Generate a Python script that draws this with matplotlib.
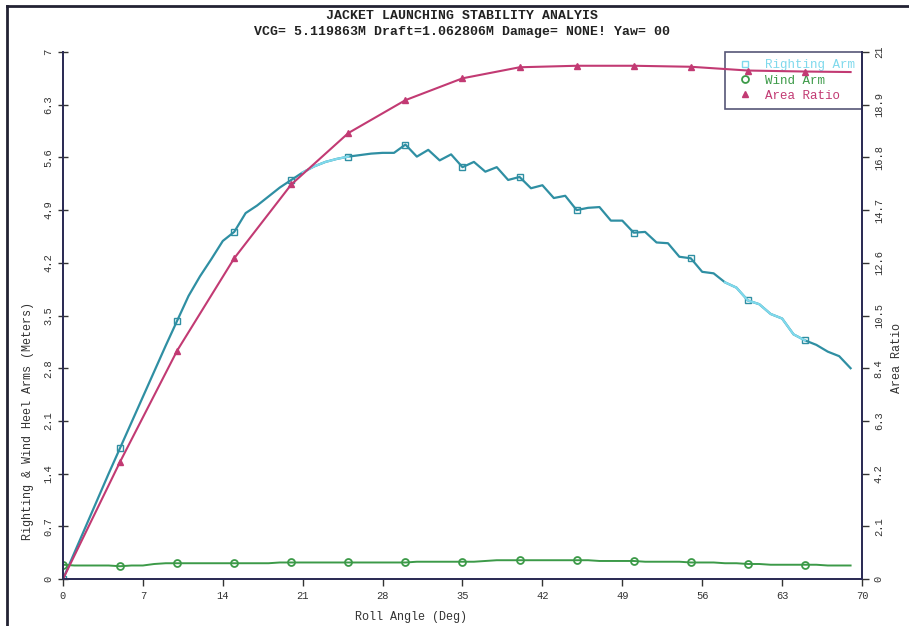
import matplotlib
matplotlib.use('Agg')
import matplotlib.pyplot as plt
from matplotlib.lines import Line2D

plt.rcParams['font.family'] = ['Liberation Mono', 'DejaVu Sans Mono']

# roll angle, degrees
angle = list(range(0, 70))

# righting arm (m), read every degree
righting_arm = [0.00, 0.35, 0.70, 1.05, 1.40, 1.74, 2.08, 2.42, 2.76, 3.10,
                3.43, 3.76, 4.02, 4.25, 4.49, 4.61, 4.86, 4.96, 5.08, 5.20,
                5.30, 5.40, 5.48, 5.54, 5.58, 5.61, 5.63, 5.65, 5.66, 5.66,
                5.77, 5.61, 5.70, 5.56, 5.64, 5.47, 5.54, 5.41, 5.47, 5.30,
                5.34, 5.19, 5.23, 5.06, 5.09, 4.90, 4.93, 4.94, 4.76, 4.76,
                4.60, 4.61, 4.47, 4.46, 4.28, 4.26, 4.08, 4.06, 3.94, 3.87,
                3.70, 3.65, 3.52, 3.46, 3.25, 3.17, 3.11, 3.02, 2.96, 2.80]

# wind heel arm (m)
wind_arm = [0.19, 0.18, 0.18, 0.18, 0.18, 0.17, 0.18, 0.18, 0.20, 0.21,
            0.21, 0.21, 0.21, 0.21, 0.21, 0.21, 0.21, 0.21, 0.21, 0.22,
            0.22, 0.22, 0.22, 0.22, 0.22, 0.22, 0.22, 0.22, 0.22, 0.22,
            0.22, 0.23, 0.23, 0.23, 0.23, 0.23, 0.23, 0.24, 0.25, 0.25,
            0.25, 0.25, 0.25, 0.25, 0.25, 0.25, 0.25, 0.24, 0.24, 0.24,
            0.24, 0.23, 0.23, 0.23, 0.23, 0.22, 0.22, 0.22, 0.21, 0.21,
            0.20, 0.20, 0.19, 0.19, 0.19, 0.19, 0.19, 0.18, 0.18, 0.18]

# area ratio (right axis)
area_angle = [0, 5, 10, 15, 20, 25, 30, 35, 40, 45, 50, 55, 60, 65, 69]
area_ratio = [0.0, 4.67, 9.10, 12.78, 15.72, 17.77, 19.08, 19.95, 20.39,
              20.45, 20.45, 20.41, 20.26, 20.22, 20.20]

x_ticks = [0, 7, 14, 21, 28, 35, 42, 49, 56, 63, 70]
left_ticks = [0, 0.7, 1.4, 2.1, 2.8, 3.5, 4.2, 4.9, 5.6, 6.3, 7]
right_ticks = [0, 2.1, 4.2, 6.3, 8.4, 10.5, 12.6, 14.7, 16.8, 18.9, 21]

teal = '#2f8fa3'
light = '#7fd9ec'
green = '#3c9a48'
magenta = '#c23a73'
navy = '#2c2c55'

fig = plt.figure(figsize=(9.09, 6.26), dpi=100)
ax = fig.add_axes([0.0693, 0.075, 0.8790, 0.842])
ax2 = ax.twinx()

ax.plot(angle, righting_arm, color=teal, lw=1.6, marker='s', ms=5,
        mfc='none', mec=teal, markevery=range(0, 70, 5))
# lighter patches of the scanned line
ax.plot(angle[21:26], righting_arm[21:26], color=light, lw=1.6)
ax.plot(angle[58:66], righting_arm[58:66], color=light, lw=1.6)
ax.plot(angle, wind_arm, color=green, lw=1.4, marker='o', ms=5,
        mfc='none', mec=green, mew=1.3, markevery=range(0, 70, 5))
ax2.plot(area_angle, area_ratio, color=magenta, lw=1.5, marker='^', ms=5,
         markevery=range(0, 14))

ax.set_xlim(0, 70)
ax.set_ylim(0, 7)
ax2.set_ylim(0, 21)
ax.set_xticks(x_ticks)
ax.set_yticks(left_ticks)
ax.set_yticklabels(['0' if t == 0 else str(t) for t in left_ticks],
                   rotation=90, va='center')
ax2.set_yticks(right_ticks)
ax2.set_yticklabels(['0' if t == 0 else ('21' if t == 21 else str(t)) for t in right_ticks],
                    rotation=90, va='center')

for a in (ax, ax2):
    a.tick_params(labelsize=7.5, colors='#333333', width=1, length=5)
    for s in a.spines.values():
        s.set_color(navy)
        s.set_linewidth(1.3)
    a.spines['top'].set_visible(False)
ax.tick_params(axis='y', direction='inout', length=7)

ax.set_xlabel('Roll Angle (Deg)', fontsize=8.5, color='#333333')
ax.xaxis.set_label_coords(0.435, -0.06)
ax.set_ylabel('Righting & Wind Heel Arms (Meters)', fontsize=8.5, color='#333333')
ax.yaxis.set_label_coords(-0.036, 0.30)
ax2.set_ylabel('Area Ratio', fontsize=8.5, color='#333333', rotation=90)
ax2.yaxis.set_label_coords(1.036, 0.42)

fig.text(0.508, 0.975, 'JACKET LAUNCHING STABILITY ANALYIS', ha='center',
         va='center', fontsize=9.5, fontweight='bold', color='#222222')
fig.text(0.508, 0.949, 'VCG= 5.119863M Draft=1.062806M Damage= NONE! Yaw= 00',
         ha='center', va='center', fontsize=9.5, fontweight='bold', color='#222222')

handles = [Line2D([], [], ls='none', marker='s', ms=5, mfc='none', mec=light),
           Line2D([], [], ls='none', marker='o', ms=5, mfc='none', mec=green, mew=1.3),
           Line2D([], [], ls='none', marker='^', ms=5, color=magenta)]
leg = ax.legend(handles, ['Righting Arm', 'Wind Arm', 'Area Ratio'],
                loc='upper right', borderaxespad=0, fontsize=9,
                frameon=True, fancybox=False, facecolor='none', edgecolor=navy,
                handletextpad=0.6, labelspacing=0.25, borderpad=0.6)
leg.get_frame().set_linewidth(1.2)
for txt, c in zip(leg.get_texts(), [light, green, magenta]):
    txt.set_color(c)

# scan frame lines on the page
fig.add_artist(Line2D([0.008, 0.008], [0, 0.99], color='#222233', lw=2))
fig.add_artist(Line2D([0.008, 1], [0.99, 0.99], color='#222233', lw=2))

plt.savefig('out.png', dpi=100)
